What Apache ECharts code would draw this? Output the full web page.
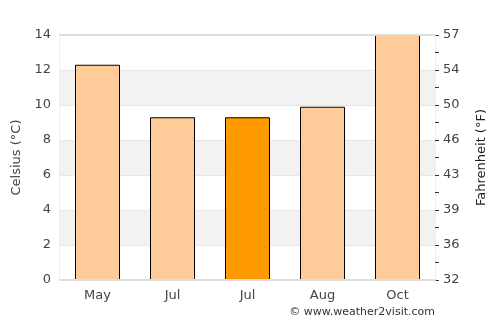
<!DOCTYPE html>
<html>
<head>
<meta charset="utf-8">
<script src="https://cdn.jsdelivr.net/npm/echarts@6/dist/echarts.min.js"></script>
<style>
  html, body { margin: 0; padding: 0; background: #fff; }
  #chart { width: 500px; height: 325px; }
</style>
</head>
<body>
<div id="chart"></div>
<script>
const months = ['May', 'Jul', 'Jul', 'Aug', 'Oct'];
const celsius = [12.3, 9.3, 9.3, 9.9, 14.5];
const highlight = [false, false, true, false, false];
const fahrenheitLabels = ['32', '36', '39', '43', '46', '50', '54', '57'];

const font = 'DejaVu Sans';
const chart = echarts.init(document.getElementById('chart'));

const option = {
    animation: false,
    grid: { left: 60, right: 65, top: 35, bottom: 45, show: true, borderColor: '#dddddd', borderWidth: 1 },
    xAxis: [{
        type: 'category',
        data: months,
        z: 5,
        axisLine: { show: true, onZero: false, lineStyle: { color: '#dddddd', width: 2 } },
        axisTick: { show: false },
        axisLabel: { color: '#444', fontFamily: font, fontSize: 13, margin: 9 }
    }, {
        // top border drawn over the clipped bar
        type: 'category',
        data: months,
        position: 'top',
        z: 5,
        axisLine: { show: true, onZero: false, lineStyle: { color: '#dddddd', width: 2 } },
        axisTick: { show: false },
        axisLabel: { show: false }
    }],
    yAxis: [{
        type: 'value',
        min: 0,
        max: 14,
        interval: 2,
        name: 'Celsius (°C)',
        nameLocation: 'middle',
        nameGap: 34,
        nameTextStyle: { color: '#444', fontFamily: font, fontSize: 13 },
        axisLine: { show: false },
        axisTick: { show: false },
        axisLabel: { color: '#444', fontFamily: font, fontSize: 13, margin: 9 },
        splitLine: { show: true, lineStyle: { color: '#e6e6e6' } },
        splitArea: { show: true, areaStyle: { color: ['#ffffff', '#f2f2f2'] } }
    }, {
        type: 'value',
        min: 0,
        max: 14,
        interval: 1,
        position: 'right',
        name: 'Fahrenheit (°F)',
        nameLocation: 'middle',
        nameGap: 40,
        nameRotate: 90,
        nameTextStyle: { color: '#222', fontFamily: font, fontSize: 13 },
        axisLine: { show: false },
        axisTick: { show: true, inside: false, length: 4, lineStyle: { color: '#333' } },
        axisLabel: {
            color: '#444', fontFamily: font, fontSize: 13, margin: 8,
            formatter: v => (v % 2 === 0 ? fahrenheitLabels[v / 2] : '')
        },
        splitLine: { show: false },
        splitArea: { show: false }
    }],
    series: [{
        type: 'bar',
        barWidth: '60%',
        clip: true,
        data: celsius.map((v, i) => ({
            value: v,
            itemStyle: { color: highlight[i] ? '#ff9900' : '#ffcc99' }
        })),
        itemStyle: { borderColor: '#000', borderWidth: 1 }
    }],
    graphic: [{
        type: 'text',
        right: 65,
        top: 307,
        style: { text: '© www.weather2visit.com', fill: '#333', font: '11px "DejaVu Sans"' }
    }]
};
chart.setOption(option);
</script>
</body>
</html>
